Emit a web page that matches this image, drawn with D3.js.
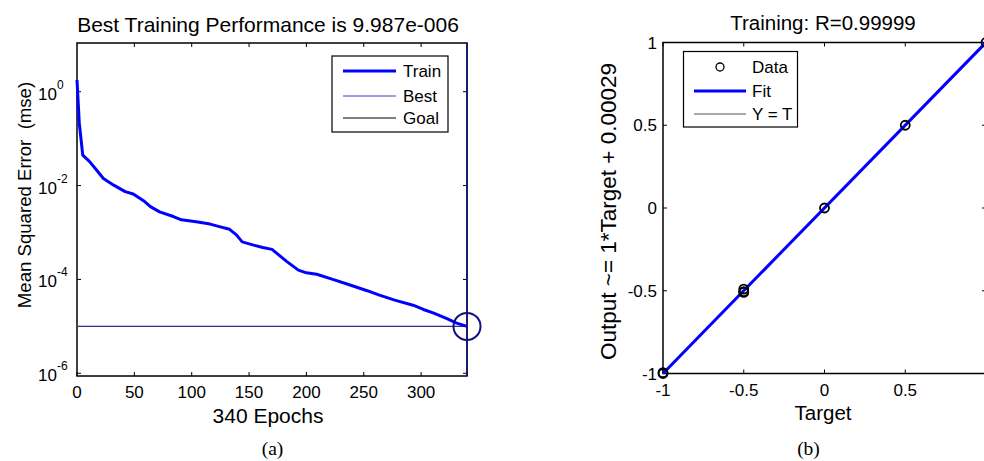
<!DOCTYPE html>
<html><head><meta charset="utf-8">
<script src="https://cdn.jsdelivr.net/npm/d3@7"></script>
<style>body{margin:0;background:#fff;overflow:hidden}svg{display:block}text{font-family:"Liberation Sans",Arial,sans-serif;fill:#000;white-space:pre}</style>
</head><body><svg id="c" width="984" height="461"></svg>
<script>
// ---- Panel (a) data ----
const epochs = [0,2,5,11,17,23,32,42,49,59,64,72,84,91,104,116,125,133,139,144,154,162,170,174,183,193,200,209,223,238,253,263,277,293,302,311,322,331,340];
const trainMse = [1.78,0.214,0.0447,0.0324,0.0214,0.0141,0.0102,0.00741,0.00661,0.00457,0.00355,0.00275,0.00219,0.00186,0.0017,0.00151,0.00132,0.00117,0.000891,0.000631,0.000537,0.000479,0.000437,0.000363,0.00024,0.000158,0.000138,0.000129,0.0001,7.59e-5,5.75e-5,4.68e-5,3.63e-5,2.82e-5,2.29e-5,1.91e-5,1.48e-5,1.17e-5,9.987e-6];
const bestEpoch = 340;
const bestPerf = 9.987e-6;
const goal = 1e-5;
const epochTicks = [0,50,100,150,200,250,300];
const mseTickExps = [0,-2,-4,-6];
const legendA = ["Train","Best","Goal"];
// ---- Panel (b) data ----
const targets = [-1,-1,-0.5,-0.5,-0.5,0,0.5,1];
const outputs = [-1,-0.995,-0.49,-0.505,-0.51,0,0.5,1];
const fitSlope = 1, fitIntercept = 0.00029;
const rTicks = [-1,-0.5,0,0.5,1];
const rTickLabels = ["-1","-0.5","0","0.5","1"];
const legendB = ["Data","Fit","Y = T"];

const svg = d3.select("#c");
const navy = "#101080";
const W = 984;

// ================= Panel (a) =================
const xa = d3.scaleLinear().domain([0,340]).range([77,467]);
const ya = d3.scaleLog().domain([Math.pow(10,-6.058), Math.pow(10,1.038)]).range([376,43]);
const ga = svg.append("g");
ga.append("rect").attr("x",77).attr("y",43).attr("width",390).attr("height",333).attr("fill","#fff").attr("stroke","#000").attr("stroke-width",1.5);
// goal / best lines
ga.append("line").attr("x1",xa(0)).attr("x2",xa(340)).attr("y1",ya(goal)).attr("y2",ya(goal)).attr("stroke","#2a2a70").attr("stroke-width",1.2);
ga.append("line").attr("x1",xa(0)).attr("x2",xa(340)).attr("y1",ya(bestPerf)).attr("y2",ya(bestPerf)).attr("stroke","#5050c0").attr("stroke-width",1).attr("stroke-dasharray","1,1").attr("opacity",0.6);
// ticks
const tl=4;
epochTicks.concat([340]).forEach(t=>{
  ga.append("line").attr("x1",xa(t)).attr("x2",xa(t)).attr("y1",376).attr("y2",376-tl).attr("stroke","#000");
  if(t!==340 && t!==0) ga.append("line").attr("x1",xa(t)).attr("x2",xa(t)).attr("y1",43).attr("y2",43+tl).attr("stroke","#000");
});
epochTicks.forEach(t=>{
  ga.append("text").attr("x",xa(t)).attr("y",398).attr("text-anchor","middle").attr("font-size",17).text(t);
});
mseTickExps.forEach(e=>{
  const y=ya(Math.pow(10,e));
  ga.append("line").attr("x1",77).attr("x2",77+tl).attr("y1",y).attr("y2",y).attr("stroke","#000");
  ga.append("line").attr("x1",467).attr("x2",467-tl).attr("y1",y).attr("y2",y).attr("stroke","#000");
  const t=ga.append("text").attr("x",38).attr("y",y+8).attr("font-size",17);
  t.append("tspan").text("10");
  t.append("tspan").attr("dy",-11).attr("font-size",12).text(String(e));
});
// train line
const line = d3.line().x((d,i)=>xa(epochs[i])).y(d=>ya(d));
ga.append("path").datum(trainMse).attr("d",line).attr("fill","none").attr("stroke","#0000ff").attr("stroke-width",3).attr("stroke-linejoin","round");
// best epoch vertical line
ga.append("line").attr("x1",xa(bestEpoch)).attr("x2",xa(bestEpoch)).attr("y1",43).attr("y2",376).attr("stroke",navy).attr("stroke-width",1.5);
ga.append("circle").attr("cx",xa(bestEpoch)).attr("cy",ya(bestPerf)).attr("r",13.5).attr("fill","none").attr("stroke",navy).attr("stroke-width",2);
// legend
ga.append("rect").attr("x",332).attr("y",56).attr("width",116).attr("height",76).attr("fill","#fff").attr("stroke","#000").attr("stroke-width",1.2);
const lgY=[71,96,118];
const lgStyle=[{c:"#0000ff",w:3},{c:"#3a3ac0",w:1},{c:"#000",w:1}];
legendA.forEach((n,i)=>{
  ga.append("line").attr("x1",343).attr("x2",396).attr("y1",lgY[i]).attr("y2",lgY[i]).attr("stroke",lgStyle[i].c).attr("stroke-width",lgStyle[i].w);
  ga.append("text").attr("x",403).attr("y",lgY[i]+6).attr("font-size",17).text(n);
});
// titles
ga.append("text").attr("x",268).attr("y",31.5).attr("text-anchor","middle").attr("font-size",21).text("Best Training Performance is 9.987e-006");
ga.append("text").attr("x",268).attr("y",422.5).attr("text-anchor","middle").attr("font-size",21).text("340 Epochs");
ga.append("text").attr("transform","translate(31,195) rotate(-90)").attr("text-anchor","middle").attr("font-size",18.6).text("Mean Squared Error  (mse)");
ga.append("text").attr("x",272.5).attr("y",455).attr("text-anchor","middle").attr("font-size",19.5).style("font-family","'Liberation Serif','Times New Roman',serif").text("(a)");

// ================= Panel (b) =================
const xb = d3.scaleLinear().domain([-1,1]).range([663,986]);
const yb = d3.scaleLinear().domain([-1,1]).range([373.5,42.5]);
const gb = svg.append("g");
gb.append("rect").attr("x",663).attr("y",42.5).attr("width",323).attr("height",331).attr("fill","#fff").attr("stroke","#000").attr("stroke-width",1.5);
rTicks.forEach((t,i)=>{
  gb.append("line").attr("x1",xb(t)).attr("x2",xb(t)).attr("y1",373.5).attr("y2",373.5-tl).attr("stroke","#000");
  gb.append("line").attr("x1",xb(t)).attr("x2",xb(t)).attr("y1",42.5).attr("y2",42.5+tl).attr("stroke","#000");
  gb.append("line").attr("x1",663).attr("x2",663+tl).attr("y1",yb(t)).attr("y2",yb(t)).attr("stroke","#000");
  gb.append("line").attr("x1",986).attr("x2",986-tl).attr("y1",yb(t)).attr("y2",yb(t)).attr("stroke","#000");
  if (xb(t) + 8 < W) gb.append("text").attr("x",xb(t)).attr("y",396).attr("text-anchor","middle").attr("font-size",17).text(rTickLabels[i]);
  gb.append("text").attr("x",657).attr("y",yb(t)+6).attr("text-anchor","end").attr("font-size",17).text(rTickLabels[i]);
});
// Y = T line
gb.append("line").attr("x1",xb(-1)).attr("x2",xb(1)).attr("y1",yb(-1)).attr("y2",yb(1)).attr("stroke","#555").attr("stroke-width",1);
// fit
gb.append("line").attr("x1",xb(-1)).attr("x2",xb(1)).attr("y1",yb(fitSlope*-1+fitIntercept)).attr("y2",yb(fitSlope*1+fitIntercept)).attr("stroke","#0000ff").attr("stroke-width",3);
// data
gb.selectAll("circle.d").data(targets).enter().append("circle").attr("cx",(d)=>xb(d)).attr("cy",(d,i)=>yb(outputs[i])).attr("r",4.5).attr("fill","none").attr("stroke","#000").attr("stroke-width",1.8);
// legend
gb.append("rect").attr("x",683.5).attr("y",51.5).attr("width",114).attr("height",75.5).attr("fill","#fff").attr("stroke","#000").attr("stroke-width",1.2);
const lbY=[67,91,114];
gb.append("circle").attr("cx",720).attr("cy",lbY[0]).attr("r",4).attr("fill","none").attr("stroke","#000").attr("stroke-width",1.3);
gb.append("line").attr("x1",694).attr("x2",746).attr("y1",lbY[1]).attr("y2",lbY[1]).attr("stroke","#0000ff").attr("stroke-width",3);
gb.append("line").attr("x1",694).attr("x2",746).attr("y1",lbY[2]).attr("y2",lbY[2]).attr("stroke","#555").attr("stroke-width",1);
legendB.forEach((n,i)=>{
  gb.append("text").attr("x",752).attr("y",lbY[i]+6).attr("font-size",17).text(n);
});
gb.append("text").attr("x",823).attr("y",29.5).attr("text-anchor","middle").attr("font-size",20.5).text("Training: R=0.99999");
gb.append("text").attr("x",823).attr("y",420).attr("text-anchor","middle").attr("font-size",20.5).text("Target");
gb.append("text").attr("transform","translate(616,211.5) rotate(-90)").attr("text-anchor","middle").attr("font-size",22.5).text("Output ~= 1*Target + 0.00029");
gb.append("text").attr("x",808.5).attr("y",455).attr("text-anchor","middle").attr("font-size",19.5).style("font-family","'Liberation Serif','Times New Roman',serif").text("(b)");
</script></body></html>
